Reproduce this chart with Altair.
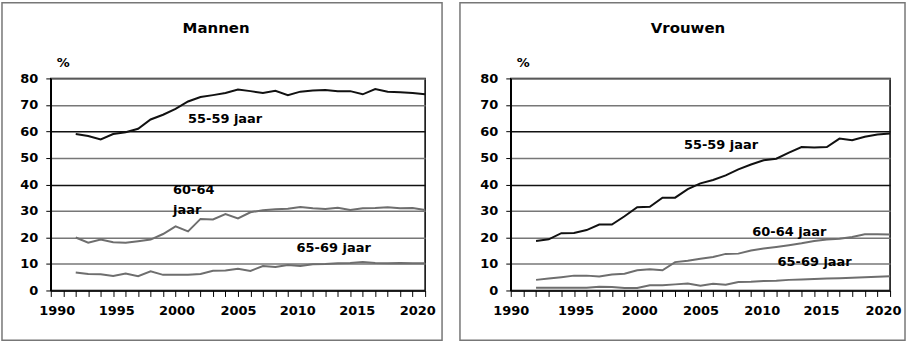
import altair as alt
import pandas as pd

years = list(range(1992, 2021))

men_55_59 = [59, 58.3, 57, 59, 59.7, 61, 64.5, 66.3, 68.5, 71.3, 73, 73.7, 74.5, 75.8, 75.2,
             74.5, 75.3, 73.7, 75, 75.4, 75.6, 75.2, 75.2, 74, 76, 75, 74.8, 74.5, 74]
men_60_64 = [20, 18, 19.2, 18.2, 18, 18.6, 19.2, 21.3, 24.2, 22.3, 27, 26.8, 28.8, 27.2, 29.5,
             30.3, 30.6, 30.8, 31.5, 31, 30.7, 31.2, 30.4, 31, 31.1, 31.4, 31, 31.1, 30.4]
men_65_69 = [6.8, 6.2, 6.1, 5.5, 6.4, 5.4, 7.2, 5.9, 5.9, 5.9, 6.2, 7.4, 7.5, 8.2, 7.4,
             9.2, 8.9, 9.6, 9.2, 9.9, 10, 10.3, 10.4, 10.7, 10.4, 10.3, 10.4, 10.3, 10.3]

women_55_59 = [18.7, 19.3, 21.6, 21.7, 22.8, 24.9, 24.9, 28, 31.4, 31.6, 35, 35, 38.2, 40.4, 41.7,
               43.4, 45.7, 47.5, 49.1, 49.7, 52, 54.1, 53.9, 54.1, 57.3, 56.7, 58, 58.8, 59.2]
women_60_64 = [4, 4.5, 5, 5.6, 5.6, 5.3, 6, 6.3, 7.6, 8, 7.6, 10.7, 11.2, 12, 12.6,
               13.8, 13.9, 15.1, 15.8, 16.4, 17.1, 17.8, 18.7, 19.2, 19.5, 20.2, 21.2, 21.2, 21.1]
women_65_69 = [1, 1, 1, 1, 1, 1.4, 1.3, 0.9, 0.9, 2, 2, 2.3, 2.6, 1.8, 2.5,
               2.2, 3.2, 3.3, 3.6, 3.7, 4, 4.1, 4.3, 4.5, 4.6, 4.8, 5, 5.2, 5.4]

groups = ["55-59", "60-64", "65-69"]
group_colors = ["#111111", "#6e6e6e", "#6e6e6e"]

men_label_text = ["55-59 jaar", "60-64", "jaar", "65-69 jaar"]
men_label_x = [2001.0, 1999.8, 1999.8, 2009.7]
men_label_y = [64.6, 37.9, 30.4, 16.2]

women_label_text = ["55-59 jaar", "60-64 jaar", "65-69 jaar"]
women_label_x = [2003.7, 2009.1, 2011.1]
women_label_y = [54.8, 22.2, 10.9]

x_tick_values = list(range(1990, 2021))
y_tick_values = list(range(0, 81, 10))
x_label_years = [1990, 1995, 2000, 2005, 2010, 2015, 2020]

FONT = "DejaVu Sans"
H = 213


def panel(title, series, ltext, lx, ly, width, left_pad, right_pad, title_cx, label_shift):
    rows = []
    for g, vals in zip(groups, series):
        for yr, v in zip(years, vals):
            rows.append({"year": yr, "value": v, "group": g})
    df = pd.DataFrame(rows)
    ldf = pd.DataFrame({"year": lx, "value": ly, "t": ltext})

    xscale = alt.Scale(domain=[1990, 2020], nice=False, zero=False)
    yscale = alt.Scale(domain=[0, 80], nice=False)

    offset_cond = {
        "condition": [
            {"test": f"datum.value == {yr}", "value": s}
            for yr, s in zip(x_label_years, label_shift)
        ],
        "value": 0,
    }

    xaxis = alt.Axis(
        title=None, values=x_tick_values,
        labelExpr="datum.value % 5 == 0 ? datum.value : ''",
        labelOffset=offset_cond, labelFlush=False,
        grid=False, tickSize=6, tickColor="black", domainColor="black",
        domainWidth=1.5, labelPadding=8, labelFont=FONT, labelFontSize=13,
        labelFontWeight="bold", labelColor="black", labelOverlap=False,
    )
    yaxis = alt.Axis(
        title="%", titleAngle=0, titleX=12, titleY=-16, titleAlign="center",
        titleBaseline="middle", titleFont=FONT, titleFontSize=13,
        titleFontWeight="bold", titleColor="black",
        values=y_tick_values, grid=True, labelOverlap=False, labelFlush=False,
        gridColor={"condition": {"test": "datum.value == 40 || datum.value == 60",
                                 "value": "#111111"}, "value": "#777777"},
        gridWidth=1.5, tickSize=5, tickColor="black", domainColor="black",
        domainWidth=1.5, labelPadding=8, labelFont=FONT, labelFontSize=13,
        labelFontWeight="bold", labelColor="black",
    )

    lines = alt.Chart(df).mark_line(strokeWidth=2).encode(
        x=alt.X("year:Q", scale=xscale, axis=xaxis),
        y=alt.Y("value:Q", scale=yscale, axis=yaxis),
        color=alt.Color("group:N", scale=alt.Scale(domain=groups, range=group_colors), legend=None),
    )
    texts = alt.Chart(ldf).mark_text(
        align="left", baseline="middle", font=FONT, fontSize=13,
        fontWeight="bold", color="black",
    ).encode(
        x=alt.X("year:Q", scale=xscale, axis=xaxis),
        y=alt.Y("value:Q", scale=yscale, axis=yaxis),
        text="t:N",
    )
    one = pd.DataFrame({"a": [0]})
    border = alt.Chart(one).mark_rect(
        fillOpacity=0, stroke="#777777", strokeWidth=1.5,
    ).encode(
        x=alt.value(-left_pad), x2=alt.value(width + right_pad),
        y=alt.value(-76), y2=alt.value(H + 50),
    )
    head = alt.Chart(one).mark_text(
        align="center", baseline="middle", font=FONT, fontSize=15,
        fontWeight="bold", color="black",
    ).encode(
        x=alt.value(title_cx), y=alt.value(-51), text=alt.value(title),
    )
    return alt.layer(border, lines, texts, head).properties(width=width, height=H)


left = panel("Mannen", [men_55_59, men_60_64, men_65_69],
             men_label_text, men_label_x, men_label_y, 376, 49, 17, 166,
             [6, 3, 1, 0, -3, -6, -8])
right = panel("Vrouwen", [women_55_59, women_60_64, women_65_69],
              women_label_text, women_label_x, women_label_y, 381, 51, 15, 178,
              [0, 1.5, 2, 0, -2, -6, -7])

chart = alt.hconcat(left, right, spacing=14).properties(padding=0).configure_view(
    stroke="black", strokeWidth=1.5
)

chart.save("out.html", embed_options={"renderer": "svg", "actions": False})
